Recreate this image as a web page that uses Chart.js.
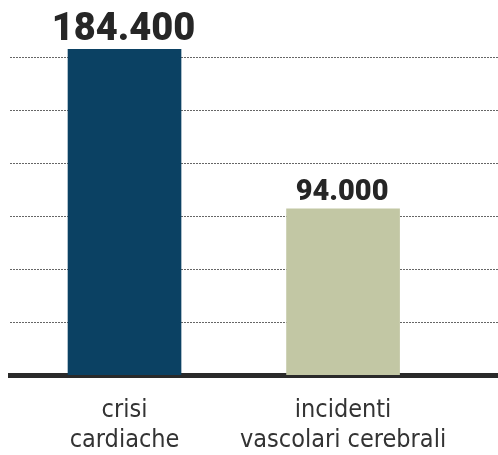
<!DOCTYPE html>
<html>
<head>
<meta charset="utf-8">
<script src="https://cdn.jsdelivr.net/npm/chart.js@4/dist/chart.umd.min.js"></script>
<style>
  html, body { margin: 0; padding: 0; background: #ffffff; }
  #wrap { width: 498px; height: 455px; }
</style>
</head>
<body>
<div id="wrap"><canvas id="barchart"></canvas></div>
<script>
var categories = [['crisi', 'cardiache'], ['incidenti', 'vascolari cerebrali']];
var values = [184400, 94000];
var valueLabels = ['184.400', '94.000'];
var barColours = ['#0b4163', '#c2c7a4'];

// value text above each bar
var valueLabelPlugin = {
    id: 'valueLabels',
    afterDatasetsDraw: function(chart){
        var ctx = chart.ctx;
        var meta = chart.getDatasetMeta(0);
        var sizes = [38, 29];
        ctx.save();
        ctx.fillStyle = '#262626';
        ctx.textAlign = 'center';
        ctx.textBaseline = 'alphabetic';
        meta.data.forEach(function(bar, i){
            ctx.font = '900 ' + sizes[i] + 'px Roboto';
            ctx.fillText(valueLabels[i], bar.x - 1, bar.y - 9);
        });
        ctx.restore();
    }
};

var points = values.map(function(v, i){ return {x: i, y: v}; });

var ctxB = document.getElementById('barchart').getContext('2d');
var myBarChart = new Chart(ctxB, {
    type: 'bar',
    data: {
        datasets: [{
            data: points,
            backgroundColor: barColours,
            barThickness: 113,
            borderWidth: 0
        }]
    },
    options: {
        responsive: true,
        maintainAspectRatio: false,
        animation: false,
        layout: { padding: { left: 10, right: 0, top: 4, bottom: 0 } },
        plugins: {
            legend: { display: false },
            tooltip: { enabled: false }
        },
        scales: {
            x: {
                type: 'linear',
                offset: false,
                min: -0.524,
                max: 1.709,
                grid: { display: false, offset: false },
                border: { display: true, color: '#2a2a2a', width: 5 },
                afterBuildTicks: function(scale){
                    scale.ticks = [{value: 0}, {value: 1}];
                },
                afterFit: function(scale){
                    scale.height = 80;
                },
                ticks: {
                    padding: 12,
                    color: '#333333',
                    font: { family: "'DejaVu Sans Condensed', 'Liberation Sans'", size: 25, lineHeight: 1.22 },
                    callback: function(value){
                        return categories[value];
                    },
                    maxRotation: 0,
                    autoSkip: false
                }
            },
            y: {
                min: 0,
                max: 210000,
                afterFit: function(scale){
                    scale.width = 0;
                },
                afterBuildTicks: function(scale){
                    var t = [];
                    for (var v = 30000; v <= 180000; v += 30000) { t.push({value: v}); }
                    scale.ticks = t;
                },
                grid: {
                    color: '#666666',
                    lineWidth: 1,
                    drawTicks: false
                },
                border: { display: false, dash: [2, 1] },
                ticks: { display: false }
            }
        }
    },
    plugins: [valueLabelPlugin]
});
</script>
</body>
</html>
